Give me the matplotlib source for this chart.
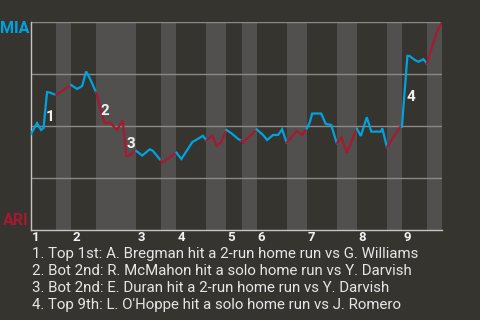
import matplotlib.pyplot as plt

# Win probability chart (MIA on top, ARI on bottom)
away_team = 'MIA'
home_team = 'ARI'
away_color = '#00A3E0'
home_color = '#A71930'

# play index where each half inning starts (last value = end of game)
half_starts = [0, 5, 8, 13, 21, 26, 29, 35, 39, 42, 45, 51, 55, 61, 65, 71, 74, 79, 82]
innings = [1, 2, 3, 4, 5, 6, 7, 8, 9]

# win probability for MIA (%) at each play
plays = [0, 1.2, 2.0, 2.5, 3.2, 3.7, 5,
         8, 9.2, 10.2, 11.0, 11.9, 13,
         14.1, 14.7, 15.9, 17.1, 18.3, 19.0, 19.7, 20.6, 21,
         22.2, 23.7, 24.3, 25.8, 26,
         26.2, 29,
         30.0, 32.2, 32.7, 33.3, 34.3, 35,
         36.2, 37.1, 38.0, 39,
         40.0, 41.3, 42,
         42.2, 43.7, 45,
         46.3, 47.1, 48.3, 49.3, 50.1, 51,
         53.0, 54.1, 55,
         55.6, 56.1, 57.9, 58.8, 59.9, 61,
         61.9, 63.0, 65,
         65.8, 67.0, 67.9, 69.8, 70.1, 71,
         73.6, 74,
         75.1, 75.5, 76.6, 77.3, 78.3, 79,
         80.0, 81.0, 82]
win_prob = [46.2, 51.4, 48.1, 49.0, 66.3, 66.1, 64.9,
            69.7, 67.8, 69.2, 76.2, 72.1, 66.1,
            56.0, 51.6, 51.4, 48.1, 52.6, 35.6, 35.9, 38.0, 38.0,
            35.8, 38.8, 38.1, 33.7, 33.5,
            32.4, 37.2,
            34.1, 42.3, 43.0, 43.8, 45.3, 43.0,
            45.3, 40.4, 42.5, 48.1,
            46.5, 43.8, 42.9,
            42.1, 45.2, 48.4,
            45.7, 43.3, 45.7, 45.7, 48.4, 42.0,
            47.6, 45.7, 48.8,
            51.6, 56.0, 56.0, 51.0, 50.5, 41.7,
            44.6, 37.2, 48.8,
            45.2, 54.2, 47.3, 47.3, 48.9, 39.8,
            49.4, 49.6,
            83.7, 83.7, 81.7, 80.9, 82.1, 80.1,
            88.1, 95.3, 100]

# big moments
moment_labels = ['1', '2', '3', '4']
moment_x = [3.8, 14.8, 19.85, 75.7]
moment_y = [54.5, 57.1, 41.2, 64.1]
moment_text = [
    '1. Top 1st: A. Bregman hit a 2-run home run vs G. Williams',
    '2. Bot 2nd: R. McMahon hit a solo home run vs Y. Darvish',
    '3. Bot 2nd: E. Duran hit a 2-run home run vs Y. Darvish',
    '4. Top 9th: L. O\'Hoppe hit a solo home run vs J. Romero',
]

plt.rcParams['font.family'] = ['Roboto', 'DejaVu Sans']
bg = '#36342f'

fig = plt.figure(figsize=(4.8, 3.2), dpi=100, facecolor=bg)
ax = fig.add_axes([31 / 480, 90 / 320, 411 / 480, 208 / 320])
ax.set_facecolor(bg)

# shade bottom halves
for i in range(1, len(half_starts) - 1, 2):
    ax.axvspan(half_starts[i], half_starts[i + 1], color='#51504e', lw=0, zorder=0)

# grid lines
for g in [25, 50, 75, 100]:
    ax.axhline(g, color='#8a8986', lw=1, zorder=1)

# line per half inning: top = away color, bottom = home color
for i in range(len(half_starts) - 1):
    a, b = half_starts[i], half_starts[i + 1]
    xs = [x for x in plays if a <= x <= b]
    ys = [y for x, y in zip(plays, win_prob) if a <= x <= b]
    ax.plot(xs, ys, color=away_color if i % 2 == 0 else home_color,
            lw=1.6, zorder=3, solid_joinstyle='miter')

for lab, x, y in zip(moment_labels, moment_x, moment_y):
    ax.text(x, y, lab, color='#f2f2f2', fontsize=11, fontweight='bold',
            ha='center', va='center', zorder=4)

ax.set_xlim(0, half_starts[-1])
ax.set_ylim(0, 100)
ax.set_xticks([])
ax.set_yticks([])
for s in ['top', 'right']:
    ax.spines[s].set_visible(False)
for s in ['left', 'bottom']:
    ax.spines[s].set_color('#c4c4c4')
    ax.spines[s].set_linewidth(1)

# team labels
ax.text(-0.005, 0.971, away_team, transform=ax.transAxes, color=away_color,
        fontsize=11.5, fontweight='bold', ha='right', va='center')
ax.text(-0.005, 0.048, home_team, transform=ax.transAxes, color=home_color,
        fontsize=11.5, fontweight='bold', ha='right', va='center')

# inning numbers
for n in innings:
    start = half_starts[2 * (n - 1)]
    ax.text(start + 1, -0.036, str(n), transform=ax.get_xaxis_transform(),
            color='#f2f2f2', fontsize=9.5, fontweight='bold', ha='center', va='center')

# moment descriptions
for i, t in enumerate(moment_text):
    fig.text(32 / 480, 1 - (254 + 17 * i) / 320, t, color='#e6e6e6',
             fontsize=10.8, ha='left', va='center')

fig.savefig('out.png', dpi=100, facecolor=bg)
